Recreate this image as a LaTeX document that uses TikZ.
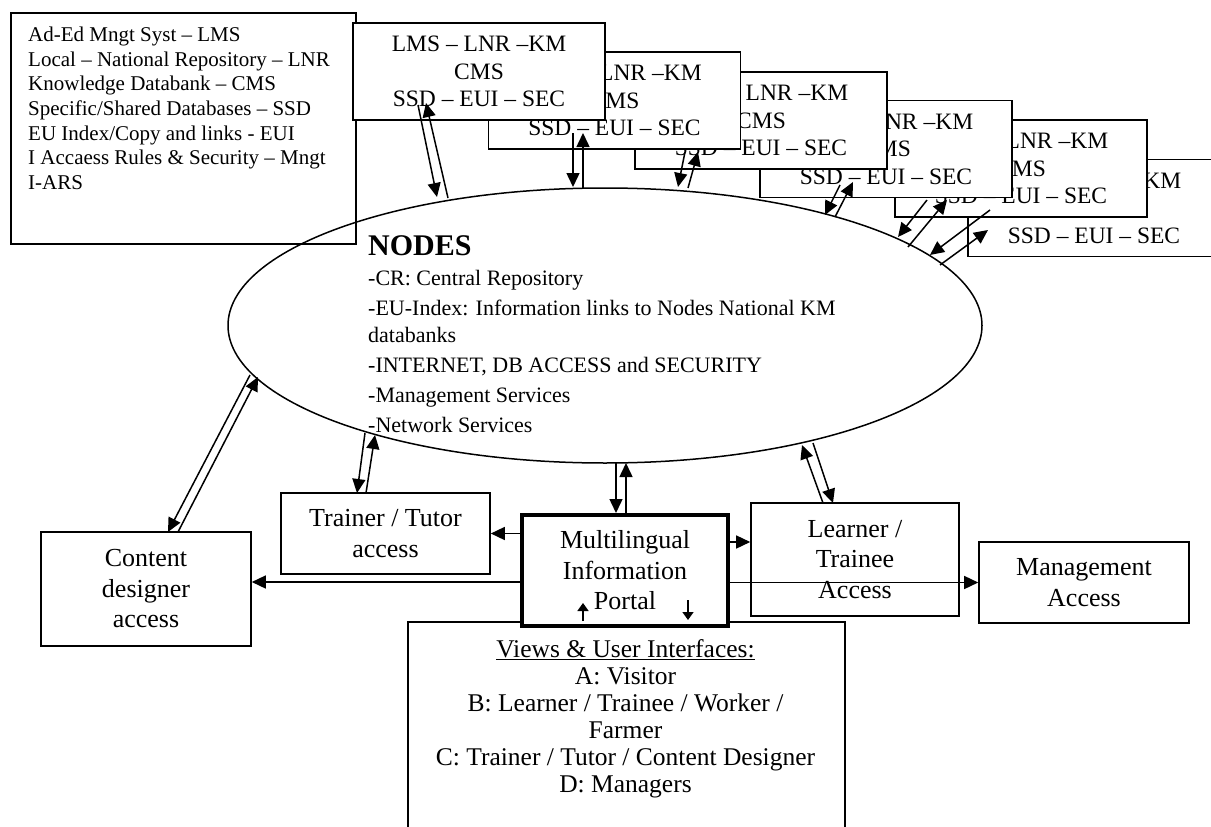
\documentclass[tikz,border=0pt]{standalone}
\usepackage{fontspec}
\setmainfont{Liberation Serif}
\usetikzlibrary{arrows.meta,shapes.geometric}
\begin{document}
\begin{tikzpicture}[x=1pt,y=-1pt,
  legendbox/.style={draw, line width=1.6pt, fill=white, anchor=north west, inner sep=0pt},
  stackbox/.style={draw, line width=1.6pt, fill=white, minimum width=252pt, minimum height=97pt, inner sep=0pt, align=center, font=\fontsize{23.5}{27.5}\selectfont},
  accbox/.style={draw, line width=1.6pt, fill=white, inner sep=0pt, align=center, font=\fontsize{26}{30.5}\selectfont},
  arr/.style={line width=1.5pt, -{Triangle[length=14pt,width=13pt]}},
  smallarr/.style={line width=1.5pt, -{Triangle[length=8pt,width=11pt]}},
]
\fill[white] (0,0) rectangle (1211,827);
\useasboundingbox (0,0) rectangle (1211,827);
\clip (0,0) rectangle (1211,827);

% legend
\node[legendbox, minimum width=345pt, minimum height=231pt] (legend) at (10,12) {};
\node[anchor=north west, inner sep=0pt, align=left, font=\fontsize{21}{24.56}\selectfont] (legendtext) at (28,27)
  {Ad-Ed Mngt Syst – LMS\\ Local – National Repository – LNR\\ Knowledge Databank – CMS\\ Specific/Shared Databases – SSD\\ EU Index/Copy and links - EUI\\ I Accaess Rules \& Security – Mngt\\ I-ARS};

% stacked node boxes (back to front)
\node[stackbox] (sF) at (1094,208)   {LMS – LNR –KM\\CMS\\SSD – EUI – SEC};
\node[stackbox] (sE) at (1021,168.5) {LMS – LNR –KM\\CMS\\SSD – EUI – SEC};
\node[stackbox] (sD) at (886,149)    {LMS – LNR –KM\\CMS\\SSD – EUI – SEC};
\node[stackbox] (sC) at (761,120.5)  {LMS – LNR –KM\\CMS\\SSD – EUI – SEC};
\node[stackbox] (sB) at (614.5,100.5){LMS – LNR –KM\\CMS\\SSD – EUI – SEC};
\node[stackbox] (sA) at (479,71.5)   {LMS – LNR –KM\\CMS\\SSD – EUI – SEC};

% ellipse
\node[draw, ellipse, line width=1.5pt, minimum width=754pt, minimum height=275pt, inner sep=0pt] (nodes) at (605,325.5) {};
\node[anchor=base west, inner sep=0pt, font=\fontsize{30}{30}\selectfont\bfseries] (nodestitle) at (368,255) {NODES};
\node[anchor=north west, inner sep=0pt, align=left, font=\fontsize{22}{30}\selectfont] (nodesbody) at (368,270)
  {-CR: Central Repository\\ -EU-Index: Information links to Nodes National KM\\[-3pt] databanks\\ -INTERNET, DB ACCESS and SECURITY\\ -Management Services\\ -Network Services};

% access boxes
\node[accbox, minimum width=210pt, minimum height=114pt] (content) at (146,589) {Content\\designer\\access};
\node[accbox, minimum width=209pt, minimum height=81pt] (trainer) at (385.5,533.5) {Trainer / Tutor\\access};
\node[accbox, minimum width=208pt, minimum height=113pt] (learner) at (855,559.5) {Learner /\\Trainee\\Access};
\node[accbox, minimum width=210pt, minimum height=81pt] (mgmt) at (1084,582.5) {Management\\Access};

% views box
\node[draw, line width=1.6pt, fill=white, minimum width=437pt, minimum height=230pt, anchor=north west, inner sep=0pt] (views) at (407,621) {};
\node[align=center, inner sep=0pt, font=\fontsize{25.5}{27}\selectfont] (viewstext) at (625.5,718.5)
  {\underline{Views \& User Interfaces:}\\A: Visitor\\B: Learner / Trainee / Worker /\\Farmer\\C: Trainer / Tutor / Content Designer\\D: Managers};

% portal
\node[accbox, line width=4.5pt, minimum width=206pt, minimum height=111pt] (portal) at (625,570.5) {Multilingual\\Information\\Portal};

% coordinates for connectors
\coordinate (a1s) at (418,105); \coordinate (a1e) at (437,197);
\coordinate (a2s) at (448,198); \coordinate (a2e) at (426,103);
\coordinate (b1s) at (573,133); \coordinate (b1e) at (573,187);
\coordinate (b2s) at (583,188); \coordinate (b2e) at (583,133);
\coordinate (c1s) at (685,152); \coordinate (c1e) at (678,187);
\coordinate (c2s) at (688,188); \coordinate (c2e) at (698,152);
\coordinate (d1s) at (840,185); \coordinate (d1e) at (825,215);
\coordinate (d2s) at (835,217); \coordinate (d2e) at (853,182);
\coordinate (e1s) at (927,200); \coordinate (e1e) at (898,237);
\coordinate (e2s) at (908,247); \coordinate (e2e) at (947,200);
\coordinate (f1s) at (990,210); \coordinate (f1e) at (930,255);
\coordinate (f2s) at (940,265); \coordinate (f2e) at (988,230);

\coordinate (g1s) at (250,375); \coordinate (g1e) at (168,532);
\coordinate (g2s) at (178,532); \coordinate (g2e) at (258,377);
\coordinate (h1s) at (365,433); \coordinate (h1e) at (357,493);
\coordinate (h2s) at (366,493); \coordinate (h2e) at (375,435);
\coordinate (p1s) at (616,463); \coordinate (p1e) at (616,513);
\coordinate (p2s) at (626,513); \coordinate (p2e) at (626,463);
\coordinate (l1s) at (823,503); \coordinate (l1e) at (802,445);
\coordinate (l2s) at (813,443); \coordinate (l2e) at (833,503);

\coordinate (u1s) at (583,621); \coordinate (u1e) at (583,603);
\coordinate (v1s) at (688,600); \coordinate (v1e) at (688,620);

% stack <-> ellipse
\draw[arr] (a1s) -- (a1e); \draw[arr] (a2s) -- (a2e);
\draw[arr] (b1s) -- (b1e); \draw[arr] (b2s) -- (b2e);
\draw[arr] (c1s) -- (c1e); \draw[arr] (c2s) -- (c2e);
\draw[arr] (d1s) -- (d1e); \draw[arr] (d2s) -- (d2e);
\draw[arr] (e1s) -- (e1e); \draw[arr] (e2s) -- (e2e);
\draw[arr] (f1s) -- (f1e); \draw[arr] (f2s) -- (f2e);

% ellipse <-> access boxes
\draw[arr] (g1s) -- (g1e); \draw[arr] (g2s) -- (g2e);
\draw[arr] (h1s) -- (h1e); \draw[arr] (h2s) -- (h2e);
\draw[arr] (p1s) -- (p1e); \draw[arr] (p2s) -- (p2e);
\draw[arr] (l1s) -- (l1e); \draw[arr] (l2s) -- (l2e);

% portal -> access boxes
\draw[arr] (portal.west |- trainer.east) -- (trainer.east);
\draw[arr] (portal.west |- 0,582) -- (content.east |- 0,582);
\draw[arr] (portal.east |- 0,542) -- (learner.west |- 0,542);
\draw[arr] (portal.east |- mgmt.west) -- (mgmt.west);

% portal <-> views
\draw[smallarr] (u1s) -- (u1e);
\draw[smallarr] (v1s) -- (v1e);
\end{tikzpicture}
\end{document}
